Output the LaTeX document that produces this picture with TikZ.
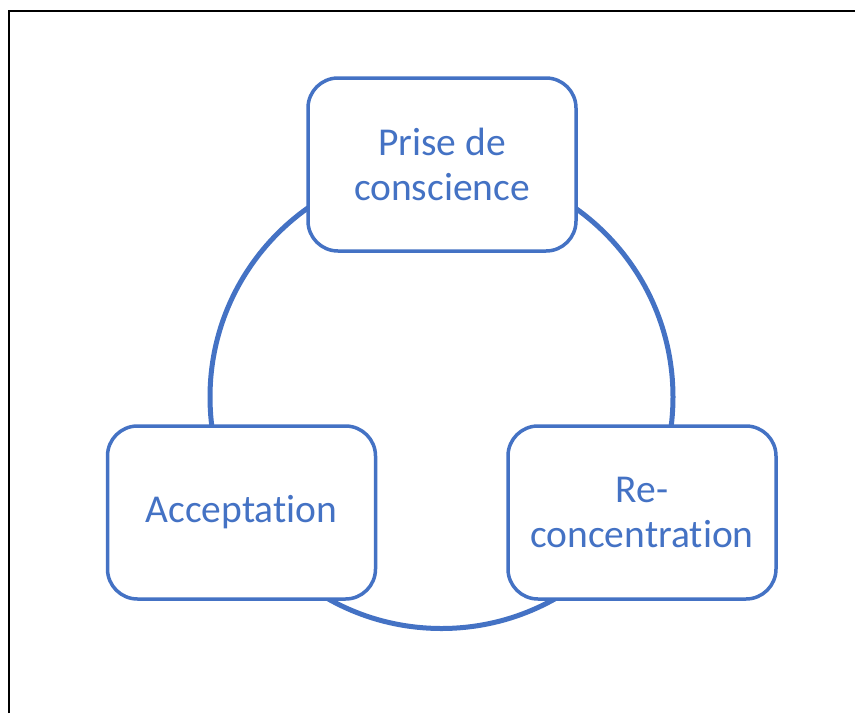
\documentclass[tikz,border=0pt]{standalone}
\usepackage{fontspec}
\setmainfont{Carlito}[Ligatures={NoCommon}]
\definecolor{accent}{HTML}{4472C4}
\begin{document}
\begin{tikzpicture}[x=1pt,y=-1pt,
  stage/.style={draw=accent, line width=3.5pt, fill=white, rounded corners=30pt,
    minimum width=268pt, minimum height=173pt, align=center, text=accent,
    font=\fontsize{39.5}{45}\selectfont, inner sep=0pt},
  cycle/.style={draw=accent, line width=5pt}]
\useasboundingbox (0,0) rectangle (855,713);
\coordinate (c) at (441.5,397);
\coordinate (fb) at (8.5,713);
\coordinate (fc) at (8.5,10.5);
\coordinate (fr) at (855,10.5);
\draw[black, line width=2pt] (fb) -- (fc) -- (fr);
\draw[cycle] (c) circle[radius=231.5];
\node[stage] (top) at (442,164.5) {Prise de\\conscience};
\node[stage] (left) at (241.5,512.5) {Acceptation};
\node[stage] (right) at (642,512.5) {Re-\\concentration};
\end{tikzpicture}
\end{document}
